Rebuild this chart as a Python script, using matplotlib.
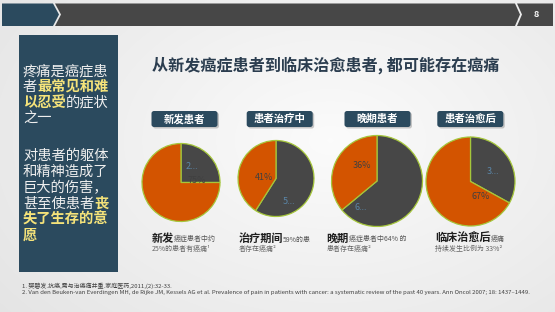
import matplotlib.pyplot as plt
import numpy as np
from matplotlib.patches import Polygon, FancyBboxPatch, Rectangle

plt.rcParams['font.family'] = ['Noto Sans CJK SC', 'DejaVu Sans']

# ---- data ----
title = "从新发癌症患者到临床治愈患者, 都可能存在癌痛"
stages = ["新发患者", "患者治疗中", "晚期患者", "患者治愈后"]
pain_pct = [25, 59, 64, 33]      # dark wedge: patients with cancer pain
other_pct = [75, 41, 36, 67]     # orange wedge
caption_heads = ["新发", "治疗期间", "晚期", "临床治愈后"]
caption_tails = ["癌症患者中约", "59%的患", "癌症患者中64% 的", "癌痛"]
caption_second = ["25%的患者有癌痛¹", "者存在癌痛²", "患者存在癌痛²", "持续发生比例为 33%²"]
side_lines = [
    [("疼痛是癌症患", False)],
    [("者", False), ("最常见和难", True)],
    [("以忍受", True), ("的症状", False)],
    [("之一", False)],
    None,
    [("对患者的躯体", False)],
    [("和精神造成了", False)],
    [("巨大的伤害，", False)],
    [("甚至使患者", False), ("丧", True)],
    [("失了生存的意", True)],
    [("愿", True)],
]
refs = [
    "1. 樊碧发.抗癌,需与治癌痛并重.家庭医药,2011,(2):32-33.",
    "2. Van den Beuken-van Everdingen MH, de Rijke JM, Kessels AG et al. Prevalence of pain in patients with cancer: "
    "a systematic review of the past 40 years. Ann Oncol 2007; 18: 1437–1449.",
]

# ---- layout (pixels) ----
W, H = 555, 312
navy = "#2b4a5e"
dark = "#474747"
orange = "#d35400"
rim = "#a5c63b"
pie_centers = [(181, 182.5), (276, 178.5), (377, 181), (470.5, 181.5)]
pie_radius = [39, 38, 45.5, 44.5]
box_x = [184.5, 279.7, 377.5, 470.3]
cap_x = [151.5, 238.5, 326.5, 435]
pain_lbl_off = [(11, -16), (13, 23), (-16, 26), (22, -10)]
other_lbl_off = [(16, -2), (-12, -1), (-15, -15), (10, 15)]

fig = plt.figure(figsize=(W / 100, H / 100), dpi=100)
bg = fig.add_axes([0, 0, 1, 1])
bg.set_xlim(0, W)
bg.set_ylim(H, 0)
bg.axis('off')

# soft radial background
yy, xx = np.mgrid[0:H, 0:W]
d = np.sqrt(((xx - 330) / 330.0) ** 2 + ((yy - 140) / 220.0) ** 2)
shade = 0.985 - 0.07 * np.clip(d, 0, 1.3)
bg.imshow(np.dstack([shade] * 3), extent=(0, W, H, 0), zorder=0, aspect='auto')

# top bar
bg.add_patch(Polygon([(2, 3.5), (53, 3.5), (59, 14.5), (53, 26), (2, 26)], fc=navy, zorder=1))
bg.add_patch(Polygon([(55, 3.5), (515, 3.5), (520, 14.5), (515, 26), (55, 26), (61, 14.5)], fc=dark, zorder=1))
bg.add_patch(Polygon([(517, 3.5), (553, 3.5), (553, 26), (517, 26), (522, 14.5)], fc=dark, zorder=1))
bg.text(536, 14.5, "8", color="white", fontsize=6.5, fontweight="bold", ha="center", va="center")

# left panel
bg.add_patch(Rectangle((19, 34.7), 98.5, 237, fc=navy, zorder=1))
y = 71
for line in side_lines:
    if line is None:
        y += 22
        continue
    prev = None
    for txt, hi in line:
        kw = dict(fontsize=10.3, color="#f5e37a" if hi else "#eeeeee",
                  fontweight="bold" if hi else "normal", zorder=3)
        if prev is None:
            prev = bg.text(23, y, txt, ha="left", va="center", **kw)
        else:
            prev = bg.annotate(txt, xy=(1, 0), xycoords=prev, ha="left", va="bottom", **kw)
    y += 15.8

# title
bg.text(326, 65, title, ha="center", va="center", fontsize=11.6, fontweight="bold", color="#2b3d4f")

for i, stage in enumerate(stages):
    # stage label box with shadow
    bx, by = box_x[i] - 33, 111
    bg.add_patch(FancyBboxPatch((bx + 1.5, by + 1.5), 66, 16, boxstyle="round,pad=0,rounding_size=2.5",
                                fc="#888888", ec="none", alpha=0.45, zorder=2))
    bg.add_patch(FancyBboxPatch((bx, by), 66, 16, boxstyle="round,pad=0,rounding_size=2.5",
                                fc=navy, ec="none", zorder=3))
    bg.text(box_x[i], by + 8, stage, color="white", fontsize=7.5, fontweight="bold",
            ha="center", va="center", zorder=4)

    # pie
    cx, cy = pie_centers[i]
    r = pie_radius[i]
    s = r * 1.1
    ax = fig.add_axes([(cx - s) / W, 1 - (cy + s) / H, 2 * s / W, 2 * s / H])
    ax.pie([pain_pct[i], other_pct[i]], colors=[dark, orange], startangle=90, counterclock=False,
           wedgeprops=dict(edgecolor=rim, linewidth=0.9))
    ax.set_xlim(-1.1, 1.1)
    ax.set_ylim(-1.1, 1.1)
    ax.axis('off')
    dx, dy = pain_lbl_off[i]
    ax.text(dx / r, -dy / r, f"{pain_pct[i]}%"[0] + "...", color="#5a86a8", fontsize=6.5,
            ha="center", va="center")
    dx, dy = other_lbl_off[i]
    ax.text(dx / r, -dy / r, f"{other_pct[i]}%", color="#404040", fontsize=6.5,
            ha="center", va="center")

    # caption
    head = bg.text(cap_x[i], 238.5, caption_heads[i], fontsize=8, fontweight="bold",
                   color="#1e1e1e", ha="left", va="center")
    bg.annotate(caption_tails[i], xy=(1, 0.12), xycoords=head, fontsize=5, color="#555555",
                ha="left", va="bottom")
    bg.text(cap_x[i], 248.5, caption_second[i], fontsize=5, color="#666666", ha="left", va="center")

# references
bg.text(22, 285.5, refs[0], fontsize=4.3, color="#404040", ha="left", va="center")
bg.text(22, 292.5, refs[1], fontsize=4.3, color="#404040", ha="left", va="center")

fig.savefig("out.png", dpi=100)
plt.close()
